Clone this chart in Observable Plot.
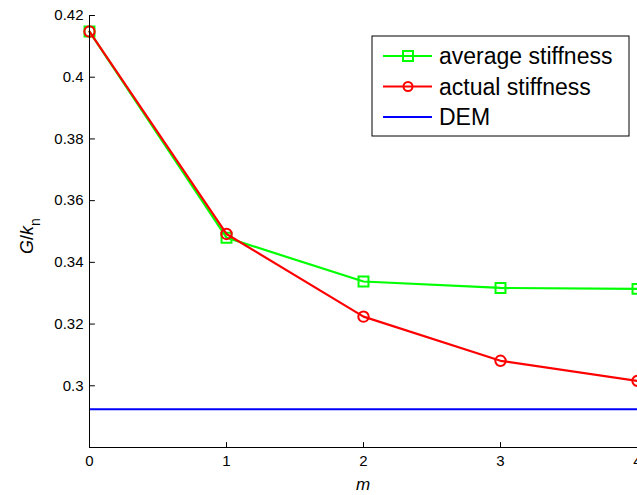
<!DOCTYPE html>
<html>
<head>
<meta charset="utf-8">
<script src="https://cdn.jsdelivr.net/npm/d3@7"></script>
<script src="https://cdn.jsdelivr.net/npm/@observablehq/plot@0.6"></script>
<style>
  html, body { margin: 0; padding: 0; background: #fff; }
  #chart { position: relative; width: 637px; height: 495px; overflow: hidden; }
  #chart svg { font-family: "Liberation Sans", Arial, sans-serif; }
</style>
</head>
<body>
<div id="chart"></div>
<script>
// Number of layers m
const mValues = [0, 1, 2, 3, 4];
// Normalised shear modulus G/k_n for each stiffness model
const averageStiffness = [0.4148, 0.3480, 0.3338, 0.3317, 0.3314];
const actualStiffness = [0.4148, 0.3492, 0.3224, 0.3081, 0.3016];
// DEM reference value
const demValue = 0.2924;
// Axis ticks
const xTicks = [0, 1, 2, 3, 4];
const yTicks = [0.3, 0.32, 0.34, 0.36, 0.38, 0.4, 0.42];
const yDomain = [0.28, 0.42];

const avgRows = mValues.map((m, i) => ({m, g: averageStiffness[i]}));
const actRows = mValues.map((m, i) => ({m, g: actualStiffness[i]}));

const GREEN = "#00ff00", RED = "#ff0000", BLUE = "#0000ff";
const font = "Liberation Sans, Arial, sans-serif";

// Straight tick segment pointing inward from the axis
const tickShape = {draw(context, l) { context.moveTo(0, 0); context.lineTo(0, -l); }};

const plot = Plot.plot({
  width: 637,
  height: 495,
  marginLeft: 89,
  marginRight: 0,
  marginTop: 15,
  marginBottom: 48,
  style: {fontSize: "15px", fontFamily: font, background: "#fff", color: "#000"},
  x: {domain: [0, 4]},
  y: {domain: yDomain},
  marks: [
    Plot.axisY({ticks: yTicks, tickSize: 0, tickPadding: 6, fontSize: 15, tickFormat: d => String(+d.toFixed(2)), label: null, fill: "#000"}),
    Plot.axisX({ticks: xTicks, tickSize: 0, tickPadding: 8, fontSize: 15, tickFormat: d => String(d), label: null, fill: "#000"}),
    Plot.vector(yTicks, {x: 0, y: d => d, length: 5, rotate: 90, anchor: "start", shape: tickShape, stroke: "#000", strokeWidth: 1}),
    Plot.vector(xTicks, {x: d => d, y: yDomain[0], length: 5, rotate: 0, anchor: "start", shape: tickShape, stroke: "#000", strokeWidth: 1}),
    Plot.ruleY([demValue], {stroke: BLUE, strokeWidth: 2.2}),
    Plot.line(avgRows, {x: "m", y: "g", stroke: GREEN, strokeWidth: 2.2}),
    Plot.dot(avgRows, {x: "m", y: "g", symbol: "square", r: 5.6, stroke: GREEN, strokeWidth: 2, fill: "none"}),
    Plot.line(actRows, {x: "m", y: "g", stroke: RED, strokeWidth: 2.2}),
    Plot.dot(actRows, {x: "m", y: "g", symbol: "circle", r: 5.2, stroke: RED, strokeWidth: 2, fill: "none"}),
    Plot.ruleX([0], {stroke: "#000", strokeWidth: 1}),
    Plot.ruleY([yDomain[0]], {stroke: "#000", strokeWidth: 1})
  ]
});

document.getElementById("chart").appendChild(plot);

const svg = d3.select(plot);

// Axis titles
svg.append("text")
  .attr("x", 363).attr("y", 490)
  .attr("text-anchor", "middle")
  .attr("font-family", font).attr("font-size", 17).attr("font-style", "italic")
  .text("m");

const yl = svg.append("text")
  .attr("transform", "translate(33,236) rotate(-90)")
  .attr("text-anchor", "middle")
  .attr("font-family", font).attr("font-size", 18);
yl.append("tspan").attr("font-style", "italic").text("G");
yl.append("tspan").text("/");
yl.append("tspan").attr("font-style", "italic").text("k");
yl.append("tspan").attr("dy", 7).attr("font-size", 14).text("n");

// Legend
const legendItems = [
  {label: "average stiffness", color: GREEN, symbol: "square"},
  {label: "actual stiffness", color: RED, symbol: "circle"},
  {label: "DEM", color: BLUE, symbol: null}
];
const lg = svg.append("g").attr("transform", "translate(372,36)");
lg.append("rect").attr("width", 257).attr("height", 100)
  .attr("fill", "#fff").attr("stroke", "#000").attr("stroke-width", 1);
legendItems.forEach((it, i) => {
  const row = lg.append("g").attr("transform", `translate(0,${20 + i * 30.5})`);
  row.append("line").attr("x1", 11).attr("x2", 60).attr("y1", 0).attr("y2", 0)
    .attr("stroke", it.color).attr("stroke-width", 2);
  if (it.symbol === "square") {
    row.append("rect").attr("x", 31).attr("y", -5).attr("width", 10).attr("height", 10)
      .attr("fill", "none").attr("stroke", it.color).attr("stroke-width", 2);
  } else if (it.symbol === "circle") {
    row.append("circle").attr("cx", 36).attr("cy", 0).attr("r", 4.5)
      .attr("fill", "none").attr("stroke", it.color).attr("stroke-width", 2);
  }
  row.append("text").attr("x", 67).attr("y", 0).attr("dy", "0.35em")
    .attr("text-anchor", "start")
    .attr("font-family", font).attr("font-size", 23).attr("fill", "#000")
    .text(it.label);
});
</script>
</body>
</html>
